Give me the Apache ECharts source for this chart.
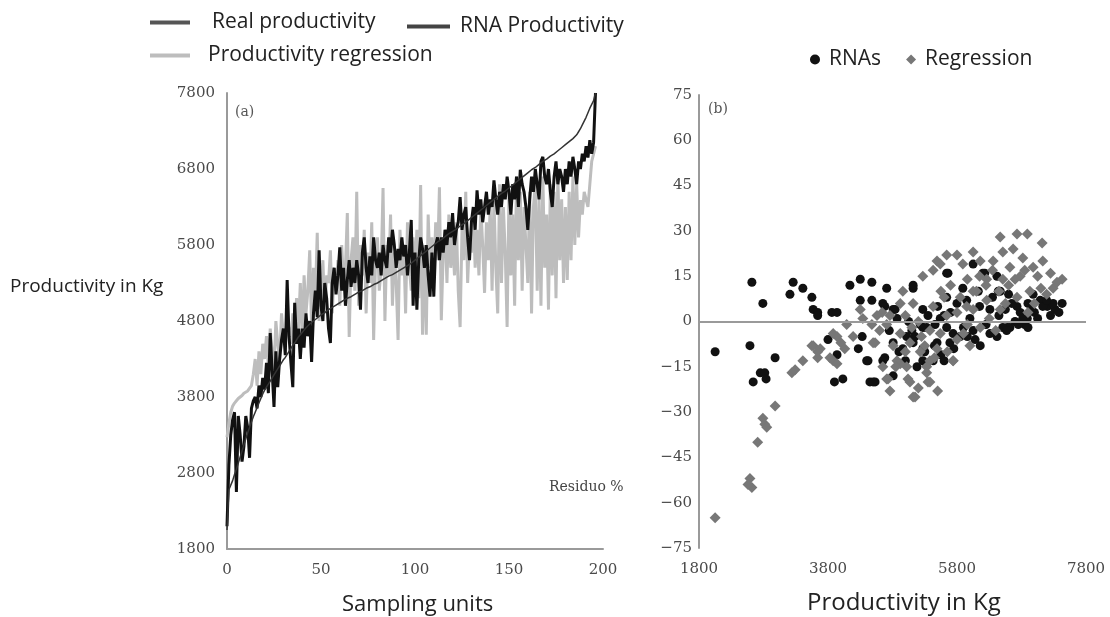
<!DOCTYPE html>
<html>
<head>
<meta charset="utf-8">
<script src="https://cdn.jsdelivr.net/npm/echarts/dist/echarts.min.js"></script>
<style>
  html, body { margin: 0; padding: 0; background: #fff; }
  #chart { width: 1110px; height: 617px; }
</style>
</head>
<body>
<div id="chart"></div>
<script>
// (a) productivity per sampling unit, index = sampling unit
const realProductivity = [
  2050, 2580, 2640, 2700, 2780, 2850, 2930, 3010, 3090, 3170, 3250, 3330, 3400, 3470, 3540, 3600, 3660, 3720, 3780, 3840,
  3890, 3930, 3970, 4010, 4050, 4090, 4130, 4170, 4210, 4250, 4290, 4320, 4360, 4400, 4440, 4480, 4510, 4550, 4590, 4620,
  4650, 4680, 4710, 4730, 4760, 4780, 4800, 4820, 4840, 4860, 4880, 4890, 4910, 4930, 4950, 4960, 4980, 4990, 5010, 5020,
  5040, 5050, 5070, 5080, 5100, 5110, 5120, 5140, 5150, 5160, 5180, 5190, 5200, 5210, 5230, 5240, 5250, 5270, 5280, 5290,
  5300, 5320, 5330, 5340, 5360, 5370, 5390, 5400, 5410, 5430, 5440, 5460, 5470, 5490, 5500, 5520, 5530, 5550, 5560, 5580,
  5600, 5620, 5640, 5660, 5680, 5700, 5720, 5740, 5760, 5780, 5800, 5820, 5840, 5860, 5870, 5890, 5910, 5930, 5950, 5960,
  5980, 6000, 6010, 6030, 6050, 6060, 6080, 6100, 6120, 6140, 6160, 6180, 6200, 6220, 6240, 6260, 6280, 6300, 6320, 6340,
  6360, 6380, 6400, 6420, 6440, 6460, 6480, 6490, 6510, 6530, 6550, 6570, 6590, 6610, 6630, 6650, 6670, 6690, 6710, 6730,
  6750, 6770, 6790, 6800, 6820, 6840, 6860, 6880, 6900, 6910, 6930, 6950, 6970, 6990, 7000, 7020, 7040, 7060, 7080, 7100,
  7120, 7140, 7160, 7180, 7200, 7220, 7250, 7290, 7330, 7380, 7430, 7480, 7540, 7600, 7650, 7700, 7800
]
const rnaProductivity = [
  2100, 2900, 3300, 3500, 3600, 2550, 3550, 3300, 2950, 3150, 3550, 3400, 3000, 3650, 3750, 3800, 3650, 3950, 3800, 4050,
  3900, 4250, 3850, 4640, 4150, 3670, 4400, 3930, 4300, 4550, 4700, 4350, 5340, 4600, 4250, 3930, 5040, 4500, 4700, 4300,
  4700, 4450, 4900, 4600, 4800, 4260, 4900, 5200, 4850, 5730, 5000, 4800, 5300, 5100, 4700, 4510, 5300, 5500, 5150, 5400,
  5770, 5200, 5500, 5000, 5340, 5600, 5250, 5500, 5300, 5600, 5400, 4950, 5700, 5900, 5500, 5300, 5650, 5400, 5900, 5600,
  5500, 5700, 5400, 5800, 5600, 5500, 5900, 5700, 6000, 5800, 5500, 5750, 5600, 5900, 5650, 5800, 5400, 5700, 6130, 5000,
  5700, 4950, 5600, 5900, 5750, 5500, 5800, 5400, 5120, 5700, 5120, 5800, 5900, 5600, 5900, 5700, 6000, 5800, 6100, 5900,
  6220, 5800, 6000, 6100, 6430, 6000, 6200, 6300, 5900, 5600, 6100, 6300, 6000, 6520, 6200, 6400, 6100, 6300, 6500, 6200,
  6400, 6300, 6650, 6400, 6200, 6500, 6300, 6600, 6400, 6700, 6500, 6200, 6600, 6400, 6700, 6300, 6790, 6600, 6500, 6300,
  6000, 6400, 6700, 6500, 6800, 6600, 6400, 6900, 6960, 6700, 6600, 6800, 6500, 6300, 6700, 6900, 6600, 6800, 6700, 6500,
  6800, 6600, 6900, 6700, 6960, 6800, 6600, 6900, 6800, 7000, 6900, 7100, 6950, 7180, 7000, 7150, 7800
]
const regressionProductivity = [
  3270, 3450, 3600, 3680, 3720, 3750, 3780, 3800, 3820, 3850, 3870, 3880, 3900, 3950, 4100, 4300, 3950, 4400, 4100, 4500,
  4300, 4600, 4200, 4700, 4400, 4150, 4800, 4500, 4300, 4900, 4600, 4450, 4800, 4700, 4500, 4900, 4650, 5100, 4700, 5300,
  4600, 5400, 4900, 5200, 5730, 4700, 5500, 5100, 5960, 4800, 5200, 5600, 4900, 5400, 5300, 5730, 4900, 5500, 5200, 5600,
  5000, 5800, 5300, 5500, 6220, 4590, 5600, 5900, 5200, 6500, 5000, 5800, 5400, 6000, 4900, 5700, 5300, 6100, 4550, 5600,
  5900, 5200, 5500, 6550, 4800, 5800, 5400, 6200, 5000, 5700, 5300, 4550, 6000, 5400, 5800, 4900, 6100, 5500, 5200, 5900,
  5400, 6000, 5100, 6590, 4620, 5800, 4620, 6200, 5500, 5900, 5300, 6100, 5600, 6560, 4810, 5700, 6000, 5300, 6200, 5500,
  5900, 5400, 6100, 5200, 4720, 6000, 5600, 6500, 5300, 5900, 5700, 6200, 5500, 6000, 5400, 6300, 5800, 5170, 6100, 5600,
  6300, 5200, 6400, 5500, 4900, 6600, 5300, 6300, 5700, 4720, 6500, 5400, 6200, 5000, 6700, 5600, 6500, 5200, 6300, 5800,
  5300, 6500, 4900, 6300, 6600, 5200, 6400, 5000, 6700, 5500, 6200, 4950, 6600, 5400, 6500, 5100, 6700, 5600, 6400, 5300,
  6300, 5340, 6500, 5600, 6700, 5800, 6600, 5900, 6390, 6200, 6500, 6400, 6300, 6600, 6900, 7000, 7100
]

// (b) residuals [productivity in kg, residuo %]
const rnaResiduals = [
  [2050, -10], [2620, 13], [2790, 6], [2590, -8], [2980, -12], [2750, -17], [2820, -17], [2640, -20], [2840, -19],
  [3260, 13], [3210, 9], [3410, 11], [3550, 8], [3570, 4], [3640, 3], [3640, 2], [3860, 3], [3940, 3], [3800, -6],
  [3940, -11], [4030, -19], [4140, 12], [4300, 14], [4480, 13], [4300, 7], [4480, 7], [4650, 6], [4710, 11], [4330, -5],
  [4420, -13], [4270, -9], [4450, -20], [4530, -20], [4680, -12], [5120, 11], [5640, 16], [6050, 19], [6230, 16],
  [6470, 10], [4810, 4], [4870, 1], [5270, -2], [5460, -1], [6780, 3], [6890, 1], [6850, -1], [7200, 5], [7320, 4],
  [7430, 6], [7090, 7], [6980, 9], [6580, -2], [6620, -2], [4500, -20], [4810, -18], [5000, -13], [5270, -13],
  [5330, -14], [4810, -7], [5020, -5], [5490, -7], [5690, -7], [5850, -5], [6160, -8], [6420, -5], [5120, 12],
  [5660, 16], [6200, 16], [6440, 10], [6130, 10], [4680, 5], [4840, 4], [5270, 4], [5640, 8], [5800, 6], [5540, 1],
  [5640, -2], [5330, -2], [5230, -1], [5120, -7], [5270, -9], [5430, -13], [4650, -13], [5740, -4], [5960, -5],
  [6310, -4], [6510, -2], [6570, -3], [6310, 4], [6000, 1], [6820, 1], [7130, 5], [7290, 6], [7190, 7], [6730, 5],
  [5890, 11], [6420, 15], [4400, -13], [4960, -9], [5100, -3], [5600, 2], [6700, 0], [6900, -2], [7000, 3], [3900, -20],
  [4900, -10], [5050, 0], [5150, -5], [5350, 2], [5450, -8], [5550, -11], [5700, 3], [5750, -9], [5900, -2], [6050, -3],
  [6150, 5], [6250, -1], [6350, 8], [6450, 2], [6550, 4], [6650, 6], [6750, -1], [6950, 4], [7050, 1], [7250, 2],
  [7380, 3], [5300, -10], [5500, 5], [5950, 7], [6600, 9], [4750, -3], [5180, -15], [5600, -13], [6080, -6], [6900, 6]
]
const regressionResiduals = [
  [2050, -65], [2590, -52], [2620, -55], [2560, -54], [2710, -40], [2790, -32], [2820, -34], [2850, -35], [2980, -28],
  [3240, -17], [3290, -16], [3410, -13], [3570, -8], [3680, -9], [3640, -12], [3880, -13], [3940, -14], [3830, -12],
  [4000, -7], [4060, -9], [3550, -8], [3640, -10], [3940, -5], [3880, -4], [4090, -1], [4300, 4], [4340, 1], [4480, -1],
  [4560, 2], [4640, 3], [4530, -7], [4710, -19], [4710, -1], [4730, -19], [4760, -23], [5040, -19], [5150, -25],
  [5350, -20], [5330, -17], [5020, -15], [4920, -14], [5740, -13], [5380, -13], [4500, -7], [4190, -5], [6470, 28],
  [6730, 29], [6890, 29], [7120, 26], [6510, 23], [6670, 24], [5800, 22], [6050, 23], [5540, 19], [5430, 17],
  [5270, 15], [6820, 21], [6980, 18], [7130, 20], [7430, 14], [7290, 11], [7190, 9], [5890, 19], [6160, 20],
  [6360, 20], [6620, 18], [6780, 15], [6510, 14], [6260, 14], [5960, 14], [4960, 10], [5120, 6], [4920, 6], [4760, 2],
  [5430, 5], [5800, 3], [6050, 4], [6260, 7], [6470, 4], [6730, 8], [6930, 10], [5640, 2], [5960, -1], [6160, -2],
  [5540, -4], [5380, -3], [5800, -6], [4920, -4], [5070, -7], [4810, -8], [4870, -13], [5070, -20], [5330, -15],
  [5380, -20], [5120, -25], [5740, -13], [5230, -10], [5490, -9], [5200, 0], [5600, 8], [6100, 10], [6600, 12],
  [7000, 6], [5000, 2], [4600, -3], [6300, 1], [5490, 20], [5640, 22],
  [4850, -15], [5000, -10], [5100, -2], [5250, -5], [5450, -12], [5550, 10], [5700, 12], [5850, 8], [5950, 5],
  [6050, 10], [6150, 15], [6250, 12], [6350, 17], [6450, 10], [6550, 6], [6700, 14], [6850, 17], [7050, 15],
  [7250, 16], [7350, 13], [5300, -8], [5650, -10], [5900, -4], [6000, -8], [4650, -15], [5200, -22], [5500, -23],
  [6400, -3], [6900, 3], [7100, 11]
]

const sansFont = '"Open Sans", "Noto Sans", sans-serif'
const serifFont = '"DejaVu Serif", serif'

const chart = echarts.init(document.getElementById('chart'))

function indexed (values) {
  return values.map((v, i) => [i, v])
}

const axisGray = '#9a9a9a'
const tickLabel = { fontFamily: serifFont, fontSize: 15, color: '#4a4a4a', formatter: v => String(v) }
const legendText = { fontFamily: sansFont, fontSize: 21, color: '#222' }

const option = {
  animation: false,
  backgroundColor: '#fff',
  legend: [{
    left: 150,
    top: 12,
    padding: 0,
    icon: 'rect',
    itemWidth: 40,
    itemHeight: 4,
    data: ['Real productivity'],
    textStyle: Object.assign({ padding: [0, 0, 0, 17] }, legendText)
  }, {
    left: 407,
    top: 16,
    padding: 0,
    icon: 'rect',
    itemWidth: 43,
    itemHeight: 4,
    data: ['RNA Productivity'],
    textStyle: Object.assign({ padding: [0, 0, 0, 5] }, legendText)
  }, {
    left: 150,
    top: 45,
    padding: 0,
    icon: 'rect',
    itemWidth: 40,
    itemHeight: 4,
    data: ['Productivity regression'],
    textStyle: Object.assign({ padding: [0, 0, 0, 13] }, legendText)
  }, {
    left: 810,
    top: 49,
    padding: 0,
    itemWidth: 10,
    itemHeight: 10,
    itemGap: 25,
    data: [{ name: 'RNAs', icon: 'circle' }, { name: 'Regression', icon: 'diamond' }],
    textStyle: Object.assign({ padding: [0, 0, 0, 4] }, legendText)
  }],
  grid: [
    { left: 227, right: 507, top: 93, bottom: 68 },
    { left: 699, right: 24, top: 95, bottom: 69 }
  ],
  xAxis: [{
    gridIndex: 0,
    type: 'value',
    min: 0,
    max: 200,
    interval: 50,
    axisLine: { lineStyle: { color: axisGray, width: 2 } },
    axisTick: { show: false },
    splitLine: { show: false },
    axisLabel: Object.assign({}, tickLabel, { margin: 14 })
  }, {
    gridIndex: 1,
    type: 'value',
    min: 1800,
    max: 7800,
    interval: 2000,
    axisLine: { show: false },
    axisTick: { show: false },
    splitLine: { show: false },
    axisLabel: Object.assign({}, tickLabel, { margin: 14 })
  }],
  yAxis: [{
    gridIndex: 0,
    type: 'value',
    min: 1800,
    max: 7800,
    interval: 1000,
    axisLine: { show: true, lineStyle: { color: axisGray, width: 2 } },
    axisTick: { show: false },
    splitLine: { show: false },
    axisLabel: Object.assign({}, tickLabel, { margin: 12 })
  }, {
    gridIndex: 1,
    type: 'value',
    min: -75,
    max: 75,
    interval: 15,
    axisLine: { show: true, onZero: false, lineStyle: { color: axisGray, width: 2 } },
    axisTick: { show: false },
    splitLine: { show: false },
    axisLabel: Object.assign({}, tickLabel, { margin: 7, formatter: v => String(v).replace('-', '\u2212') })
  }],
  series: [{
    name: 'Productivity regression',
    type: 'line',
    xAxisIndex: 0,
    yAxisIndex: 0,
    showSymbol: false,
    data: indexed(regressionProductivity),
    itemStyle: { color: '#bdbdbd' },
    lineStyle: { color: '#bdbdbd', width: 3 },
    z: 2
  }, {
    name: 'RNA Productivity',
    type: 'line',
    xAxisIndex: 0,
    yAxisIndex: 0,
    showSymbol: false,
    data: indexed(rnaProductivity),
    itemStyle: { color: '#444' },
    lineStyle: { color: '#111', width: 3 },
    z: 3
  }, {
    name: 'Real productivity',
    type: 'line',
    xAxisIndex: 0,
    yAxisIndex: 0,
    showSymbol: false,
    data: indexed(realProductivity),
    itemStyle: { color: '#555' },
    lineStyle: { color: '#333', width: 1.5 },
    z: 4
  }, {
    name: 'RNAs',
    type: 'scatter',
    xAxisIndex: 1,
    yAxisIndex: 1,
    symbol: 'circle',
    symbolSize: 9,
    data: rnaResiduals,
    itemStyle: { color: '#111', opacity: 1 },
    markLine: {
      silent: true,
      symbol: 'none',
      label: { show: false },
      lineStyle: { color: axisGray, width: 2, type: 'solid' },
      data: [{ yAxis: 0 }]
    },
    z: 3
  }, {
    name: 'Regression',
    type: 'scatter',
    xAxisIndex: 1,
    yAxisIndex: 1,
    symbol: 'diamond',
    symbolSize: 11,
    data: regressionResiduals,
    itemStyle: { color: '#777', opacity: 1 },
    z: 4
  }],
  graphic: [{
    type: 'text',
    left: 10,
    top: 277,
    style: { text: 'Productivity in Kg', fontFamily: sansFont, fontSize: 19, fill: '#222' }
  }, {
    type: 'text',
    left: 342,
    top: 594,
    style: { text: 'Sampling units', fontFamily: sansFont, fontSize: 22, fill: '#222' }
  }, {
    type: 'text',
    left: 807,
    top: 591,
    style: { text: 'Productivity in Kg', fontFamily: sansFont, fontSize: 24, fill: '#222' }
  }, {
    type: 'text',
    left: 549,
    top: 480,
    style: { text: 'Residuo %', fontFamily: serifFont, fontSize: 14, fill: '#444' }
  }, {
    type: 'text',
    left: 235,
    top: 105,
    style: { text: '(a)', fontFamily: serifFont, fontSize: 14, fill: '#555' }
  }, {
    type: 'text',
    left: 708,
    top: 102,
    style: { text: '(b)', fontFamily: serifFont, fontSize: 14, fill: '#555' }
  }]
}

chart.setOption(option)
window.addEventListener('resize', function () {
  chart.resize()
})
</script>
</body>
</html>
